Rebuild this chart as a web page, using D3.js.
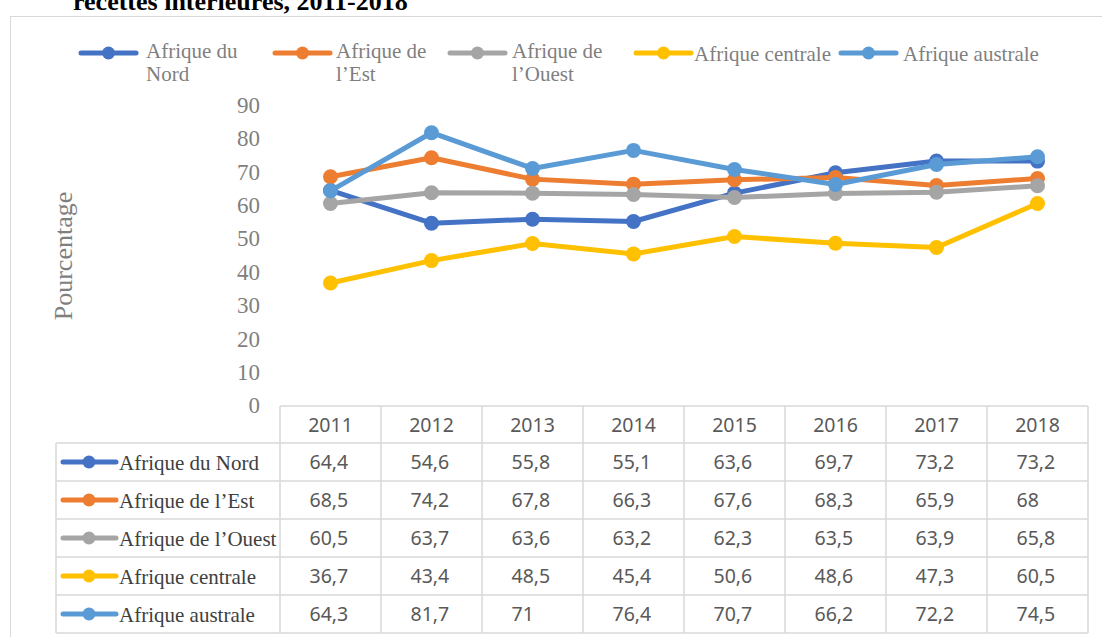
<!DOCTYPE html>
<html>
<head>
<meta charset="utf-8">
<script src="https://cdn.jsdelivr.net/npm/d3@7/dist/d3.min.js"></script>
<style>
  body { margin: 0; background: #fff; }
  svg { display: block; }
</style>
</head>
<body>
<script>
// data
const years = ["2011", "2012", "2013", "2014", "2015", "2016", "2017", "2018"];
const regions = ["Afrique du Nord", "Afrique de l’Est", "Afrique de l’Ouest", "Afrique centrale", "Afrique australe"];
const legendLabels = [["Afrique du", "Nord"], ["Afrique de", "l’Est"], ["Afrique de", "l’Ouest"], ["Afrique centrale"], ["Afrique australe"]];
const nord     = [64.4, 54.6, 55.8, 55.1, 63.6, 69.7, 73.2, 73.2];
const est      = [68.5, 74.2, 67.8, 66.3, 67.6, 68.3, 65.9, 68];
const ouest    = [60.5, 63.7, 63.6, 63.2, 62.3, 63.5, 63.9, 65.8];
const centrale = [36.7, 43.4, 48.5, 45.4, 50.6, 48.6, 47.3, 60.5];
const australe = [64.3, 81.7, 71, 76.4, 70.7, 66.2, 72.2, 74.5];
const yTicks = [0, 10, 20, 30, 40, 50, 60, 70, 80, 90];
const colors = ["#4472C4", "#ED7D31", "#A5A5A5", "#FFC000", "#5B9BD5"];

const series = [nord, est, ouest, centrale, australe].map((vals, i) => ({
  name: regions[i], legend: legendLabels[i], color: colors[i],
  values: vals.map((v, j) => ({ year: years[j], value: v }))
}));

const W = 1102, H = 637;
const serif = "'Liberation Serif', 'Times New Roman', serif";
const sans = "'Noto Sans', 'Open Sans', sans-serif";

const svg = d3.select("body").append("svg")
  .attr("width", W).attr("height", H);

// title (cut at top)
svg.append("text")
  .attr("x", 73).attr("y", 10)
  .style("font-family", serif).style("font-weight", "bold")
  .style("font-size", "26px").attr("fill", "#000")
  .text("recettes intérieures, 2011-2018");

// chart frame
svg.append("rect")
  .attr("x", 10.5).attr("y", 16.5).attr("width", 1100).attr("height", 640)
  .attr("fill", "none").attr("stroke", "#d9d9d9").attr("stroke-width", 1);

// scales
const x = d3.scaleBand().domain(years).range([280, 1088]);
const y = d3.scaleLinear().domain([0, 90]).range([405.5, 105]);
const cx = d => x(d) + x.bandwidth() / 2;

// y axis
const yAxis = svg.append("g")
  .attr("transform", "translate(268,0)")
  .call(d3.axisLeft(y).tickValues(yTicks).tickSize(0).tickPadding(8));
yAxis.select(".domain").remove();
yAxis.selectAll("text")
  .style("font-family", serif).style("font-size", "23px").attr("fill", "#7f7f7f");

svg.append("text")
  .attr("transform", "translate(72,256) rotate(-90)")
  .attr("text-anchor", "middle")
  .style("font-family", serif).style("font-size", "26px").attr("fill", "#7f7f7f")
  .text("Pourcentage");

// lines
const line = d3.line().x(d => cx(d.year)).y(d => y(d.value));
const g = svg.append("g");
series.forEach(s => {
  g.append("path").datum(s.values)
    .attr("d", line).attr("fill", "none")
    .attr("stroke", s.color).attr("stroke-width", 5)
    .attr("stroke-linejoin", "round");
  g.selectAll(null).data(s.values).enter().append("circle")
    .attr("cx", d => cx(d.year)).attr("cy", d => y(d.value))
    .attr("r", 7.5).attr("fill", s.color);
});

// legend
const legendLineX = [81, 275, 450, 636, 841];
const legendTextX = [146, 336, 512, 694, 903];
const lg = svg.append("g");
series.forEach((s, i) => {
  const x0 = legendLineX[i];
  lg.append("line").attr("x1", x0).attr("x2", x0 + 55).attr("y1", 53).attr("y2", 53)
    .attr("stroke", s.color).attr("stroke-width", 5).attr("stroke-linecap", "round");
  lg.append("circle").attr("cx", x0 + 27.5).attr("cy", 53).attr("r", 6.5).attr("fill", s.color);
  const t = lg.append("text").attr("x", legendTextX[i])
    .style("font-family", serif).style("font-size", "21px").attr("fill", "#7f7f7f");
  s.legend.forEach((l, k) => {
    t.append("tspan").attr("x", legendTextX[i])
      .attr("y", s.legend.length > 1 ? 58 + k * 23 : 61).text(l);
  });
});

// data table
const tableLeft = 56, labelRight = 280, headTop = 406, headBottom = 443, rowH = 38;
const tbl = svg.append("g").attr("stroke", "#d9d9d9").attr("stroke-width", 1.5);
const bottom = headBottom + rowH * series.length;
// horizontal lines
tbl.append("line").attr("x1", labelRight).attr("x2", 1088).attr("y1", headTop).attr("y2", headTop);
d3.range(series.length + 1).forEach(r => {
  const yy = headBottom + r * rowH;
  tbl.append("line").attr("x1", tableLeft).attr("x2", 1088).attr("y1", yy).attr("y2", yy);
});
// vertical lines
tbl.append("line").attr("x1", tableLeft).attr("x2", tableLeft).attr("y1", headBottom).attr("y2", bottom);
years.forEach(yr => {
  tbl.append("line").attr("x1", x(yr)).attr("x2", x(yr)).attr("y1", headTop).attr("y2", bottom);
});
tbl.append("line").attr("x1", 1088).attr("x2", 1088).attr("y1", headTop).attr("y2", bottom);

// header years
svg.append("g").selectAll("text").data(years).enter().append("text")
  .attr("x", d => cx(d)).attr("y", headTop + 26)
  .attr("text-anchor", "middle")
  .style("font-family", sans).style("font-size", "19.5px").attr("fill", "#595959")
  .text(d => d);

// rows
series.forEach((s, i) => {
  const top = headBottom + i * rowH;
  const mid = top + rowH / 2;
  svg.append("line").attr("x1", 63).attr("x2", 116).attr("y1", mid).attr("y2", mid)
    .attr("stroke", s.color).attr("stroke-width", 5).attr("stroke-linecap", "round");
  svg.append("circle").attr("cx", 89).attr("cy", mid).attr("r", 6.5).attr("fill", s.color);
  svg.append("text").attr("x", 119).attr("y", mid + 8)
    .style("font-family", serif).style("font-size", "21px").attr("fill", "#404040")
    .text(s.name);
  svg.append("g").selectAll("text").data(s.values).enter().append("text")
    .attr("x", d => cx(d.year) - 21).attr("y", mid + 7)
    .style("font-family", sans).style("font-size", "19.5px").attr("fill", "#595959")
    .text(d => String(d.value).replace(".", ","));
});
</script>
</body>
</html>
